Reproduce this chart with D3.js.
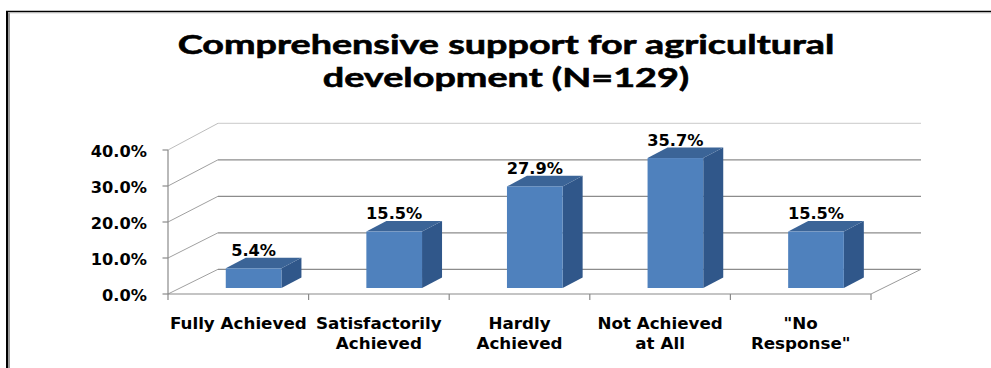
<!DOCTYPE html>
<html>
<head>
<meta charset="utf-8">
<script src="https://cdn.jsdelivr.net/npm/d3@7"></script>
<style>
  html, body { margin: 0; padding: 0; background: #fff; }
  svg { display: block; }
</style>
</head>
<body>
<script>
// Chart data
const titleLines = ["Comprehensive support for agricultural", "development (N=129)"];
const categories = ["Fully Achieved", "Satisfactorily\nAchieved", "Hardly\nAchieved", "Not Achieved\nat All", "\"No\nResponse\""];
const values = [5.4, 15.5, 27.9, 35.7, 15.5];
const yTicks = [0, 10, 20, 30, 40];

const W = 991, H = 368;
const svg = d3.select("body").append("svg").attr("width", W).attr("height", H);

// Frame
svg.append("path").attr("d", `M7,11 V${H}`).attr("stroke", "#000").attr("stroke-width", 2);
svg.append("path").attr("d", `M6,11.5 H${W}`).attr("stroke", "#000").attr("stroke-width", 1.5);
svg.append("path").attr("d", `M9,12.5 V${H}`).attr("stroke", "#9a9a9a").attr("stroke-width", 2);
svg.append("path").attr("d", `M8,12.8 H${W}`).attr("stroke", "#b5b5b5").attr("stroke-width", 1);

// Title: one text block, two lines, fitted to a fixed width
const titleFont = "Lato, 'Open Sans', sans-serif";
const title = svg.append("text")
  .attr("text-anchor", "middle")
  .attr("font-family", titleFont)
  .attr("font-weight", 700)
  .attr("font-size", 27.5)
  .attr("fill", "#000")
  .attr("stroke", "#000")
  .attr("stroke-width", 0.6);
const titleSpans = titleLines.map((t, i) =>
  title.append("tspan").attr("x", 0).attr("y", i * 33).text(t));
const sx = 657 / titleSpans[0].node().getComputedTextLength();
title.attr("transform", `translate(506,54) scale(${sx},1)`);

// 3D geometry: front plane, back wall, bar plane
const frontLeft = 168, frontRight = 871;
const depth = { dx: 50, dy: -24.7 };
const x = d3.scaleBand().domain(categories).range([frontLeft, frontRight]);
const yFront = d3.scaleLinear().domain([0, 40]).range([294, 150]);
const yBack = d3.scaleLinear().domain([0, 40]).range([269.3, 123.3]);
const yBar = d3.scaleLinear().domain([0, 40]).range([288, 142.4]);
const barShift = 15.3;
const barW = x.bandwidth() * 0.396;
const barDepth = { dx: 20, dy: -10.6 };

const labelFont = "'DejaVu Sans', Verdana, sans-serif";
const textStretch = 1.08;
const pct = d => d3.format(".1f")(d) + "%";

// Back wall gridlines
svg.append("g").selectAll("line").data(yTicks).join("line")
  .attr("x1", frontLeft + depth.dx).attr("x2", frontRight + depth.dx)
  .attr("y1", d => yBack(d)).attr("y2", d => yBack(d))
  .attr("stroke", d => d === 40 ? "#d4d4d4" : "#8c8c8c")
  .attr("stroke-width", 1.2);

// Side wall gridlines
svg.append("g").selectAll("line").data(yTicks).join("line")
  .attr("x1", frontLeft).attr("y1", d => yFront(d))
  .attr("x2", frontLeft + depth.dx).attr("y2", d => yBack(d))
  .attr("stroke", d => d === 40 ? "#bdbdbd" : "#a0a0a0")
  .attr("stroke-width", 1);

// Floor right edge
svg.append("line")
  .attr("x1", frontRight).attr("y1", yFront(0))
  .attr("x2", frontRight + depth.dx).attr("y2", yBack(0))
  .attr("stroke", "#9a9a9a").attr("stroke-width", 1);

// Value axis
svg.append("line")
  .attr("x1", frontLeft).attr("x2", frontLeft)
  .attr("y1", yFront(0)).attr("y2", yFront(40))
  .attr("stroke", "#8a8a8a").attr("stroke-width", 1.2);
svg.append("g").selectAll("line").data(yTicks).join("line")
  .attr("x1", frontLeft - 5.5).attr("x2", frontLeft)
  .attr("y1", d => yFront(d)).attr("y2", d => yFront(d))
  .attr("stroke", "#8a8a8a").attr("stroke-width", 1.2);
svg.append("g").selectAll("text").data(yTicks).join("text")
  .attr("transform", d => `translate(147,${yFront(d) + 7}) scale(${textStretch},1)`)
  .attr("text-anchor", "end")
  .attr("font-family", labelFont).attr("font-weight", 700).attr("font-size", 15)
  .attr("fill", "#000")
  .text(pct);

// Category axis
svg.append("line")
  .attr("x1", frontLeft).attr("x2", frontRight)
  .attr("y1", yFront(0)).attr("y2", yFront(0))
  .attr("stroke", "#8a8a8a").attr("stroke-width", 1.2);
const boundaries = categories.map(c => x(c)).concat([frontRight]);
svg.append("g").selectAll("line").data(boundaries).join("line")
  .attr("x1", d => d).attr("x2", d => d)
  .attr("y1", yFront(0)).attr("y2", yFront(0) + 6)
  .attr("stroke", "#8a8a8a").attr("stroke-width", 1.2);
const catText = svg.append("g").selectAll("text").data(categories).join("text")
  .attr("transform", c => `translate(${x(c) + x.bandwidth() / 2},329) scale(${textStretch},1)`)
  .attr("text-anchor", "middle")
  .attr("font-family", labelFont).attr("font-weight", 700).attr("font-size", 15.5)
  .attr("fill", "#000");
catText.each(function (c) {
  const t = d3.select(this);
  c.split("\n").forEach((line, i) => {
    t.append("tspan").attr("x", 0).attr("y", i * 19.6).text(line);
  });
});

// Bars
const bars = svg.append("g").selectAll("g").data(values).join("g");
const fx = (d, i) => x(categories[i]) + x.bandwidth() / 2 + barShift - barW / 2;
const base = yBar(0);
bars.append("path")
  .attr("fill", "#30578a")
  .attr("d", (d, i) => {
    const l = fx(d, i) + barW, t = yBar(d);
    return `M${l},${t} L${l + barDepth.dx},${t + barDepth.dy} L${l + barDepth.dx},${base + barDepth.dy} L${l},${base} Z`;
  });
bars.append("path")
  .attr("fill", "#3b6497")
  .attr("d", (d, i) => {
    const l = fx(d, i), t = yBar(d);
    return `M${l},${t} L${l + barW},${t} L${l + barW + barDepth.dx},${t + barDepth.dy} L${l + barDepth.dx},${t + barDepth.dy} Z`;
  });
bars.append("rect")
  .attr("x", fx)
  .attr("y", d => yBar(d))
  .attr("width", barW)
  .attr("height", d => base - yBar(d))
  .attr("fill", "#4f81bd");
bars.append("text")
  .attr("transform", (d, i) => `translate(${fx(d, i) + barW / 2},${yBar(d) + barDepth.dy - 1.5}) scale(${textStretch},1)`)
  .attr("text-anchor", "middle")
  .attr("font-family", labelFont).attr("font-weight", 700).attr("font-size", 15)
  .attr("fill", "#000")
  .text(pct);
</script>
</body>
</html>
